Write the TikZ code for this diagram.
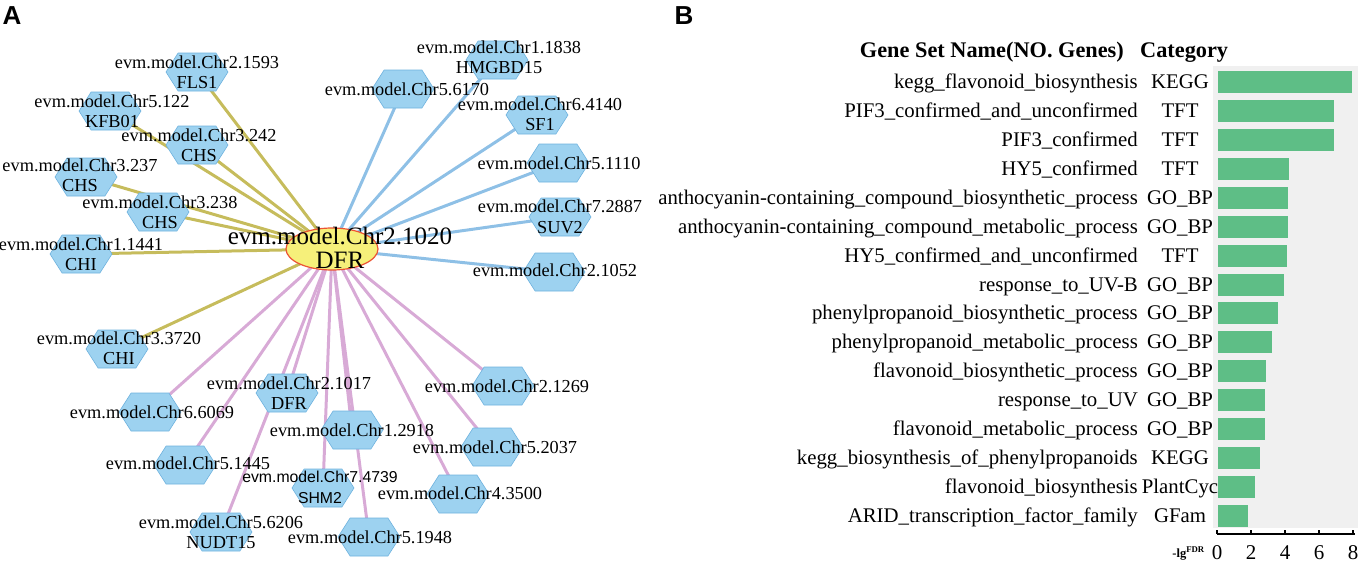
\documentclass[tikz,border=0pt]{standalone}
\usepackage{fontspec}
\setmainfont{Liberation Serif}
\newfontfamily\lsans{Liberation Sans}
\usetikzlibrary{shapes.symbols,shapes.geometric,backgrounds}
\definecolor{hexfill}{RGB}{157,210,240}
\definecolor{hexline}{RGB}{110,178,222}
\definecolor{olivee}{RGB}{198,188,92}
\definecolor{bluee}{RGB}{142,192,230}
\definecolor{pinke}{RGB}{216,170,214}
\definecolor{ellfill}{RGB}{246,240,122}
\definecolor{ellline}{RGB}{236,84,52}
\definecolor{bargreen}{RGB}{94,190,134}
\definecolor{panelgray}{RGB}{240,240,240}
\begin{document}
\begin{tikzpicture}[x=1pt,y=-1pt,
  hexnode/.style={shape=signal, signal to=west and east, signal pointer angle=115,
    minimum width=62pt, minimum height=38pt, inner sep=0pt,
    fill=hexfill, draw=hexline, line width=0.6pt},
  lbl/.style={font=\fontsize{18.3}{20.5}\selectfont, align=center, inner sep=0pt},
  slbl/.style={font=\lsans\fontsize{15.8}{21}\selectfont, align=center, inner sep=0pt},
  oedge/.style={draw=olivee, line width=3pt},
  bedge/.style={draw=bluee, line width=3pt},
  pedge/.style={draw=pinke, line width=3pt},
  hub/.style={ellipse, minimum width=92pt, minimum height=42pt, inner sep=0pt,
    fill=ellfill, draw=ellline, line width=1.2pt},
  hublbl/.style={font=\fontsize{25}{23.5}\selectfont, align=center, inner sep=0pt},
  panel/.style={font=\lsans\bfseries\fontsize{26}{26}\selectfont, inner sep=0pt},
  gsname/.style={font=\fontsize{20.8}{24}\selectfont, anchor=base east, inner sep=0pt},
  gscat/.style={font=\fontsize{20.8}{24}\selectfont, anchor=base, inner sep=0pt},
  head/.style={font=\bfseries\fontsize{22.3}{26}\selectfont, anchor=base, inner sep=0pt},
  tick/.style={font=\fontsize{21}{24}\selectfont, anchor=base, inner sep=0pt}
]
\path[use as bounding box] (0,0) rectangle (1358,562);

% ---------------- Panel A ----------------
\node[panel] (A) at (12,16) {A};

\node[hub] (dfr) at (332,249) {};

% hexagons
\node[hexnode] (fls)   at (197,72)  {};
\node[hexnode] (kfb)   at (110,111) {};
\node[hexnode] (chsA)  at (197,145) {};
\node[hexnode] (chsB)  at (86,177)  {};
\node[hexnode] (chsC)  at (158,212) {};
\node[hexnode] (chiA)  at (81,254)  {};
\node[hexnode] (chiB)  at (117,349) {};
\node[hexnode] (b6170) at (403,89)  {};
\node[hexnode] (hmg)   at (497,60)  {};
\node[hexnode] (sf1)   at (537,115) {};
\node[hexnode] (b1110) at (558,163) {};
\node[hexnode] (suv)   at (560,217) {};
\node[hexnode] (b1052) at (554,272) {};
\node[hexnode] (p6069) at (150,412) {};
\node[hexnode] (dfrB)  at (287,393) {};
\node[hexnode] (p1445) at (185,465) {};
\node[hexnode] (nudt)  at (221,532) {};
\node[hexnode] (shm)   at (323,488) {};
\node[hexnode] (p2918) at (352,430) {};
\node[hexnode] (p1948) at (369,537) {};
\node[hexnode] (p3500) at (458,494) {};
\node[hexnode] (p2037) at (492,447) {};
\node[hexnode] (p1269) at (503,386) {};

% labels
\node[lbl] (flsL)   at (197,72)  {evm.model.Chr2.1593\\FLS1};
\node[lbl] (kfbL)   at (112,111) {evm.model.Chr5.122\\KFB01};
\node[lbl] (chsAL)  at (199,145) {evm.model.Chr3.242\\CHS};
\node[lbl] (chsBL)  at (80,175)  {evm.model.Chr3.237\\CHS};
\node[lbl] (chsCL)  at (160,212) {evm.model.Chr3.238\\CHS};
\node[lbl] (chiAL)  at (81,254)  {evm.model.Chr1.1441\\CHI};
\node[lbl] (chiBL)  at (119,348) {evm.model.Chr3.3720\\CHI};
\node[lbl] (b6170L) at (407,89)  {evm.model.Chr5.6170};
\node[lbl] (hmgL)   at (499,57)  {evm.model.Chr1.1838\\HMGBD15};
\node[lbl] (sf1L)   at (540,114) {evm.model.Chr6.4140\\SF1};
\node[lbl] (b1110L) at (559,163) {evm.model.Chr5.1110};
\node[lbl] (suvL)   at (560,217) {evm.model.Chr7.2887\\SUV2};
\node[lbl] (b1052L) at (555,270) {evm.model.Chr2.1052};
\node[lbl] (p6069L) at (152,412) {evm.model.Chr6.6069};
\node[lbl] (dfrBL)  at (289,393) {evm.model.Chr2.1017\\DFR};
\node[lbl] (p1445L) at (188,463) {evm.model.Chr5.1445};
\node[lbl] (nudtL)  at (221,532) {evm.model.Chr5.6206\\NUDT15};
\node[slbl] (shmL)  at (320,487) {evm.model.Chr7.4739\\SHM2};
\node[lbl] (p2918L) at (352,430) {evm.model.Chr1.2918};
\node[lbl] (p1948L) at (370,537) {evm.model.Chr5.1948};
\node[lbl] (p3500L) at (460,493) {evm.model.Chr4.3500};
\node[lbl] (p2037L) at (495,447) {evm.model.Chr5.2037};
\node[lbl] (p1269L) at (507,386) {evm.model.Chr2.1269};

\node[hublbl] (dfrL) at (340,248) {evm.model.Chr2.1020\\DFR};

\begin{pgfonlayer}{background}
  \foreach \n in {fls,kfb,chsA,chsB,chsC,chiA,chiB}
    \draw[oedge] (dfr.center) -- (\n.center);
  \foreach \n in {b6170,hmg,sf1,b1110,suv,b1052}
    \draw[bedge] (dfr.center) -- (\n.center);
  \foreach \n in {p6069,dfrB,p1445,nudt,shm,p2918,p1948,p3500,p2037,p1269}
    \draw[pedge] (dfr.center) -- (\n.center);
\end{pgfonlayer}

% ---------------- Panel B ----------------
\node[panel] (B) at (684,16) {B};

\fill[panelgray] (1213,66) rectangle (1358,528);

\node[head, anchor=base east] (hname) at (1124,57) {Gene Set Name(NO. Genes)};
\node[head, anchor=base west] (hcat) at (1140,57) {Category};

\foreach \v/\nm/\ct [count=\i from 0] in {
  7.95/kegg\_flavonoid\_biosynthesis/KEGG,
  6.9/PIF3\_confirmed\_and\_unconfirmed/TFT,
  6.9/PIF3\_confirmed/TFT,
  4.25/HY5\_confirmed/TFT,
  4.2/anthocyanin-containing\_compound\_biosynthetic\_process/GO\_BP,
  4.2/anthocyanin-containing\_compound\_metabolic\_process/GO\_BP,
  4.12/HY5\_confirmed\_and\_unconfirmed/TFT,
  3.96/response\_to\_UV-B/GO\_BP,
  3.58/phenylpropanoid\_biosynthetic\_process/GO\_BP,
  3.22/phenylpropanoid\_metabolic\_process/GO\_BP,
  2.87/flavonoid\_biosynthetic\_process/GO\_BP,
  2.82/response\_to\_UV/GO\_BP,
  2.82/flavonoid\_metabolic\_process/GO\_BP,
  2.52/kegg\_biosynthesis\_of\_phenylpropanoids/KEGG,
  2.22/flavonoid\_biosynthesis/PlantCyc,
  1.84/ARID\_transcription\_factor\_family/GFam}
{
  \pgfmathsetmacro{\yy}{82+28.93*\i}
  \fill[bargreen] (1218,\yy-11) rectangle ({1217+17*\v},\yy+11);
  \node[gsname] (g\i) at (1138,\yy+6.5) {\nm};
  \node[gscat] (c\i) at (1180,\yy+6.5) {\ct};
}

\draw[line width=1.6pt] (1217,534) -- (1355,534);
\foreach \k in {0,2,4,6,8} {
  \draw[line width=1.6pt] ({1217+17*\k},534) -- ({1217+17*\k},529.5);
  \node[tick] (t\k) at ({1217+17*\k},559) {\k};
}
\node[font=\bfseries\fontsize{12.5}{14}\selectfont, anchor=base east, inner sep=0pt] (xl) at (1205,557) {-lg\textsuperscript{FDR}};
\end{tikzpicture}
\end{document}
